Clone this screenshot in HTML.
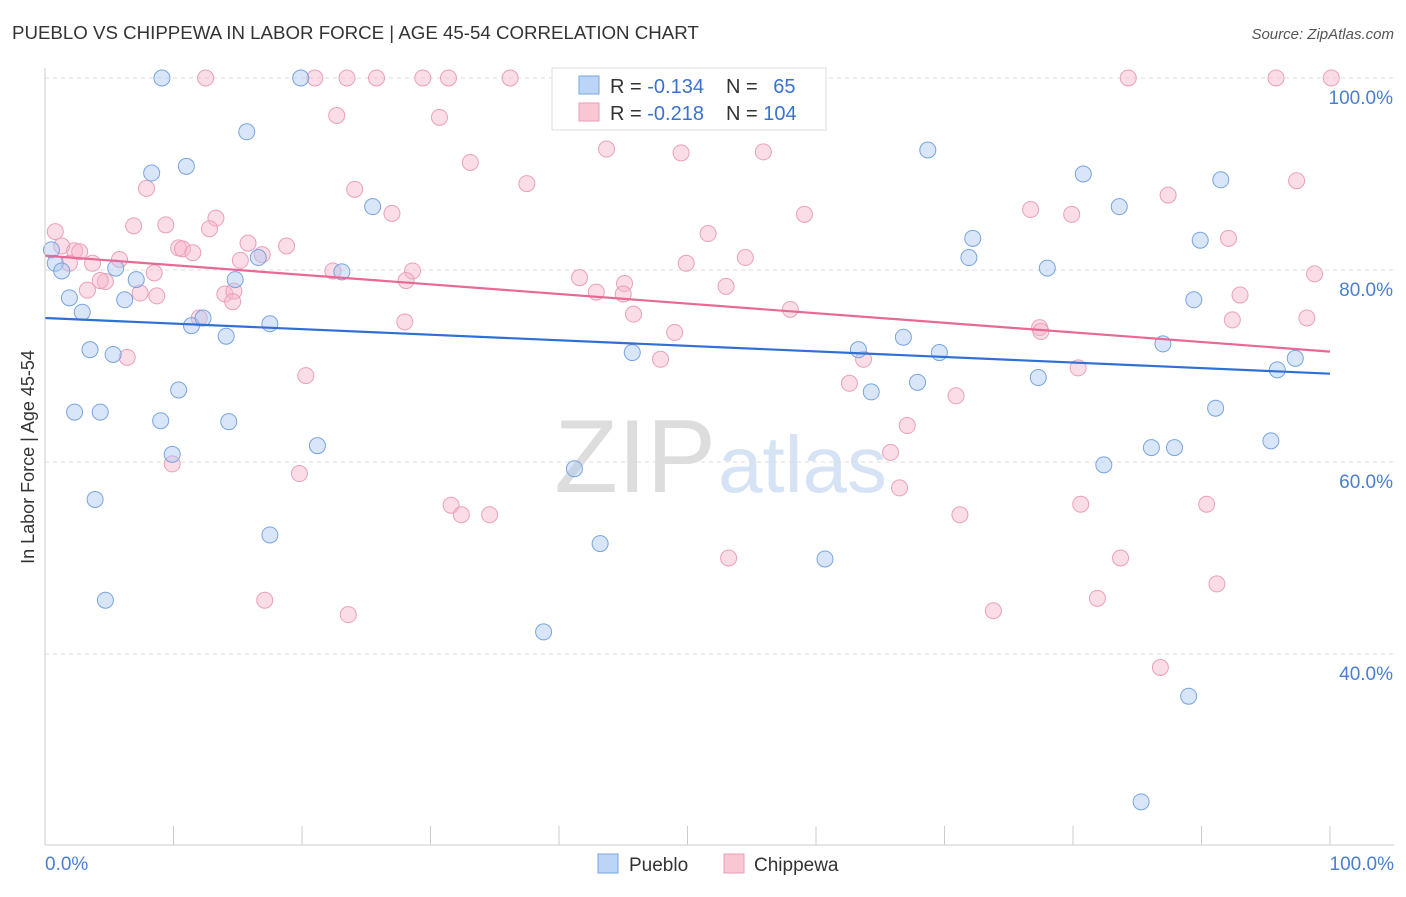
<!DOCTYPE html>
<html><head><meta charset="utf-8"><style>
body{margin:0;background:#fff;font-family:"Liberation Sans",sans-serif}
svg text{font-family:"Liberation Sans",sans-serif}
</style></head><body>
<svg width="1406" height="892" xmlns="http://www.w3.org/2000/svg" id="chart">
<text x="12" y="39" font-size="18.7" fill="#333">PUEBLO VS CHIPPEWA IN LABOR FORCE | AGE 45-54 CORRELATION CHART</text>
<text x="1394" y="39" font-size="15" fill="#555" font-style="italic" text-anchor="end">Source: ZipAtlas.com</text>
<text x="716" y="492" font-size="104" fill="#ddd" text-anchor="end" font-family="Liberation Serif">ZIP</text>
<text x="718" y="492" font-size="80" fill="#d5e3f5">atlas</text>
<text x="34" y="457" font-size="18" fill="#333" text-anchor="middle" transform="rotate(-90 34 457)">In Labor Force | Age 45-54</text>
<g id="grid"></g><g id="pts"></g><g id="trend"></g>
<line x1="45" y1="68" x2="45" y2="845" stroke="#ccc"/>
<line x1="45" y1="845" x2="1394" y2="845" stroke="#ccc"/>
<text x="45" y="870" font-size="19" fill="#4a7fd0">0.0%</text>
<text x="1394" y="870" font-size="19" fill="#4a7fd0" text-anchor="end">100.0%</text>
<g>
<rect x="552" y="68" width="274" height="62" fill="#fff" stroke="#ddd"/>
<rect x="579" y="76" width="20" height="18" fill="#bcd4f5" stroke="#7aa6e3"/>
<rect x="579" y="103" width="20" height="18" fill="#f9c6d4" stroke="#ec9cb4"/>
<text x="610" y="93" font-size="20" fill="#333">R = <tspan fill="#3a72d0">-0.134</tspan></text>
<text x="726" y="93" font-size="20" fill="#333">N = <tspan fill="#3a72d0" dx="10">65</tspan></text>
<text x="610" y="120" font-size="20" fill="#333">R = <tspan fill="#3a72d0">-0.218</tspan></text>
<text x="726" y="120" font-size="20" fill="#333">N = <tspan fill="#3a72d0">104</tspan></text>
</g>
<g><rect x="598" y="854" width="20" height="19" fill="#bcd4f5" stroke="#7aa6e3"/><text x="629" y="871" font-size="19" fill="#333">Pueblo</text></g>
<g><rect x="724" y="854" width="20" height="19" fill="#f9c6d4" stroke="#ec9cb4"/><text x="754" y="871" font-size="19" fill="#333">Chippewa</text></g>
</svg>
<script>
const yTicks=[40,60,80,100];
const xTicks=[0,10,20,30,40,50,60,70,80,90,100];
const blueX=[9.1,19.9,59.5,15.7,8.3,11,68.7,80.8,91.5,25.5,83.6,0.5,0.8,1.3,72.2,89.9,71.9,16.6,23.1,5.5,78,7.1,14.8,1.9,6.2,2.9,89.4,11.4,12.3,17.5,14.1,66.8,3.5,5.3,45.7,63.3,69.6,87,97.3,95.9,77.3,67.9,64.3,10.4,2.3,4.3,9,14.3,91.1,21.2,9.9,86.1,87.9,95.4,82.4,41.2,3.9,17.5,43.2,60.7,4.7,38.8,89,85.3];
const blueY=[100,100,100,94.4,90.1,90.8,92.5,90,89.4,86.6,86.6,82.1,80.7,79.9,83.3,83.1,81.3,81.3,79.8,80.2,80.2,79,79,77.1,76.9,75.6,76.9,74.2,75,74.4,73.1,73,71.7,71.2,71.4,71.7,71.4,72.3,70.8,69.6,68.8,68.3,67.3,67.5,65.2,65.2,64.3,64.2,65.6,61.7,60.8,61.5,61.5,62.2,59.7,59.3,56.1,52.4,51.5,49.9,45.6,42.3,35.6,24.6];
const pinkX=[0.8,12.5,21,23.5,25.8,29.4,31.4,36.2,46.7,84.3,95.8,100.1,22.7,30.7,33.1,43.7,49.5,55.9,7.9,24.1,37.5,27,13.3,6.9,9.4,12.8,59.1,76.7,79.9,87.4,97.4,51.6,92.1,15.8,18.8,1.3,2.3,2.7,10.4,10.7,11.5,16.9,15.2,1.9,3.7,5.8,54.5,49.9,8.5,22.4,28.6,28.1,41.6,45.1,4.7,4.3,3.3,7.4,8.7,14,14.7,14.6,42.9,45,53,93,98.8,58,92.4,98.2,12,28,45.8,49,77.4,77.5,6.4,47.9,63.7,20.3,80.4,62.6,70.9,67.1,9.9,19.8,65.8,66.5,31.6,32.4,34.6,80.6,90.4,71.2,53.2,83.7,17.1,81.9,91.2,23.6,73.8,86.8];
const pinkY=[84,100,100,100,100,100,100,100,100,100,100,100,96.1,95.9,91.2,92.6,92.2,92.3,88.5,88.4,89,85.9,85.4,84.6,84.7,84.3,85.8,86.3,85.8,87.8,89.3,83.8,83.3,82.8,82.5,82.5,82,81.9,82.3,82.2,81.8,81.6,81,80.7,80.7,81.1,81.3,80.7,79.7,79.9,79.9,78.9,79.2,78.6,78.8,78.9,77.9,77.6,77.3,77.5,77.8,76.7,77.7,77.5,78.3,77.4,79.6,75.9,74.8,75,75,74.6,75.4,73.5,74,73.6,70.9,70.7,70.7,69,69.8,68.2,66.9,63.8,59.8,58.8,61,57.3,55.5,54.5,54.5,55.6,55.6,54.5,50,50,45.6,45.8,47.3,44.1,44.5,38.6];
const trendBlue=[75.0,69.2];
const trendPink=[81.5,71.5];
const X=v=>45+v*12.85, Y=v=>78+(100-v)*9.6;
const NS="http://www.w3.org/2000/svg";
const mk=(t,a,p)=>{const e=document.createElementNS(NS,t);for(const k in a)e.setAttribute(k,a[k]);document.getElementById(p).appendChild(e);return e;};
yTicks.forEach(v=>{
 const l=mk('line',{x1:45,x2:1394,y1:Y(v),y2:Y(v),stroke:'#ddd','stroke-dasharray':'4,4'},'grid');
 
 
 const t=mk('text',{x:1393,y:Y(v)+26,'font-size':19,fill:'#4a7fd0','text-anchor':'end'},'grid');
 t.textContent=v.toFixed(1)+'%';
 
 
});
xTicks.forEach(v=>{
 const l=mk('line',{x1:X(v),x2:X(v),y1:826,y2:845,stroke:'#ccc'},'grid');
 
 
});
pinkX.forEach((x,i)=>{
 const c=mk('circle',{cx:X(x),cy:Y(pinkY[i]),r:8,fill:'rgba(247,180,202,0.45)',stroke:'#eba0b8','stroke-width':1},'pts');
 
 
});
blueX.forEach((x,i)=>{
 const c=mk('circle',{cx:X(x),cy:Y(blueY[i]),r:8,fill:'rgba(170,200,242,0.45)',stroke:'#78a4e0','stroke-width':1},'pts');
 
 
});
const tb=mk('line',{x1:X(0),x2:X(100),y1:Y(trendBlue[0]),y2:Y(trendBlue[1]),stroke:'#2f6fd6','stroke-width':2.2},'trend');


const tp=mk('line',{x1:X(0),x2:X(100),y1:Y(trendPink[0]),y2:Y(trendPink[1]),stroke:'#e86896','stroke-width':2.2},'trend');


</script>
</body></html>
